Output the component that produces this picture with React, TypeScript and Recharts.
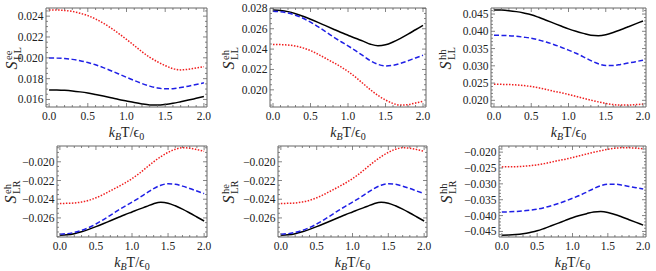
import React from 'react';
import { LineChart, Line, XAxis, YAxis, ReferenceArea } from 'recharts';

const FONT = '"Liberation Serif", "Times New Roman", "DejaVu Serif", serif';
const FRAME = '#666666';
const TEXT = '#222222';
const BLACK = '#000000';
const BLUE = '#1f1fe6';
const RED = '#f01e1e';

// k_B T / eps_0
const T_VALUES = [0, 0.1, 0.2, 0.3, 0.4, 0.5, 0.6, 0.7, 0.8, 0.9, 1.0, 1.1, 1.2, 1.3, 1.4, 1.5, 1.6, 1.7, 1.8, 1.9, 2.0];
const X_TICKS = [0, 0.5, 1.0, 1.5, 2.0];
const X_DOMAIN = [-0.04, 2.04];

// S_LL^ee
const EE_LL_BLACK = [0.01692, 0.01691, 0.01688, 0.01682, 0.01673, 0.01662, 0.01648, 0.01633, 0.01617, 0.01600, 0.01585, 0.01570, 0.01557, 0.01548, 0.01546, 0.01552, 0.01563, 0.01578, 0.01594, 0.01611, 0.01628];
const EE_LL_BLUE = [0.01998, 0.01997, 0.01993, 0.01985, 0.01972, 0.01955, 0.01933, 0.01906, 0.01876, 0.01845, 0.01813, 0.01782, 0.01753, 0.01728, 0.01710, 0.01702, 0.01704, 0.01714, 0.01728, 0.01744, 0.01760];
const EE_LL_RED = [0.02460, 0.02459, 0.02455, 0.02445, 0.02428, 0.02405, 0.02373, 0.02333, 0.02286, 0.02233, 0.02177, 0.02118, 0.02058, 0.02005, 0.01962, 0.01925, 0.01896, 0.01884, 0.01890, 0.01903, 0.01915];
const EE_LL_TICKS = [0.016, 0.018, 0.020, 0.022, 0.024];

// S_LL^eh
const EH_LL_BLACK = [0.02785, 0.02780, 0.02768, 0.02748, 0.02722, 0.02693, 0.02662, 0.02630, 0.02598, 0.02566, 0.02536, 0.02506, 0.02478, 0.02448, 0.02432, 0.02442, 0.02470, 0.02506, 0.02547, 0.02590, 0.02633];
const EH_LL_BLUE = [0.02773, 0.02768, 0.02755, 0.02733, 0.02703, 0.02665, 0.02620, 0.02572, 0.02522, 0.02476, 0.02432, 0.02385, 0.02335, 0.02286, 0.02250, 0.02235, 0.02240, 0.02260, 0.02285, 0.02313, 0.02340];
const EH_LL_RED = [0.02445, 0.02444, 0.02440, 0.02430, 0.02412, 0.02385, 0.02350, 0.02310, 0.02270, 0.02228, 0.02180, 0.02125, 0.02062, 0.02000, 0.01945, 0.01900, 0.01866, 0.01850, 0.01855, 0.01870, 0.01888];
const EH_LL_TICKS = [0.020, 0.022, 0.024, 0.026, 0.028];

// S_LL^hh
const HH_LL_BLACK = [0.04620, 0.04615, 0.04598, 0.04570, 0.04530, 0.04480, 0.04405, 0.04322, 0.04237, 0.04152, 0.04070, 0.04000, 0.03940, 0.03885, 0.03872, 0.03900, 0.03965, 0.04045, 0.04130, 0.04215, 0.04300];
const HH_LL_BLUE = [0.03885, 0.03882, 0.03872, 0.03855, 0.03830, 0.03800, 0.03750, 0.03690, 0.03620, 0.03540, 0.03455, 0.03365, 0.03260, 0.03150, 0.03060, 0.03010, 0.03010, 0.03040, 0.03080, 0.03120, 0.03165];
const HH_LL_RED = [0.02465, 0.02463, 0.02458, 0.02447, 0.02428, 0.02400, 0.02362, 0.02316, 0.02264, 0.02222, 0.02170, 0.02115, 0.02058, 0.02005, 0.01955, 0.01912, 0.01878, 0.01862, 0.01864, 0.01876, 0.01892];
const HH_LL_TICKS = [0.020, 0.025, 0.030, 0.035, 0.040, 0.045];

// S_LR^eh
const EH_LR_BLACK = [-0.02785, -0.02780, -0.02768, -0.02748, -0.02722, -0.02693, -0.02662, -0.02630, -0.02598, -0.02566, -0.02536, -0.02506, -0.02478, -0.02448, -0.02432, -0.02442, -0.02470, -0.02506, -0.02547, -0.02590, -0.02633];
const EH_LR_BLUE = [-0.02773, -0.02768, -0.02755, -0.02733, -0.02703, -0.02665, -0.02620, -0.02572, -0.02522, -0.02476, -0.02432, -0.02385, -0.02335, -0.02286, -0.02250, -0.02235, -0.02240, -0.02260, -0.02285, -0.02313, -0.02340];
const EH_LR_RED = [-0.02445, -0.02444, -0.02440, -0.02430, -0.02412, -0.02385, -0.02350, -0.02310, -0.02270, -0.02228, -0.02180, -0.02125, -0.02062, -0.02000, -0.01945, -0.01900, -0.01866, -0.01850, -0.01855, -0.01870, -0.01888];
const EH_LR_TICKS = [-0.026, -0.024, -0.022, -0.020];

// S_LR^he
const HE_LR_BLACK = [-0.02785, -0.02780, -0.02768, -0.02748, -0.02722, -0.02693, -0.02662, -0.02630, -0.02598, -0.02566, -0.02536, -0.02506, -0.02478, -0.02448, -0.02432, -0.02442, -0.02470, -0.02506, -0.02547, -0.02590, -0.02633];
const HE_LR_BLUE = [-0.02773, -0.02768, -0.02755, -0.02733, -0.02703, -0.02665, -0.02620, -0.02572, -0.02522, -0.02476, -0.02432, -0.02385, -0.02335, -0.02286, -0.02250, -0.02235, -0.02240, -0.02260, -0.02285, -0.02313, -0.02340];
const HE_LR_RED = [-0.02445, -0.02444, -0.02440, -0.02430, -0.02412, -0.02385, -0.02350, -0.02310, -0.02270, -0.02228, -0.02180, -0.02125, -0.02062, -0.02000, -0.01945, -0.01900, -0.01866, -0.01850, -0.01855, -0.01870, -0.01888];
const HE_LR_TICKS = [-0.026, -0.024, -0.022, -0.020];

// S_LR^hh
const HH_LR_BLACK = [-0.04620, -0.04615, -0.04598, -0.04570, -0.04530, -0.04480, -0.04405, -0.04322, -0.04237, -0.04152, -0.04070, -0.04000, -0.03940, -0.03885, -0.03872, -0.03900, -0.03965, -0.04045, -0.04130, -0.04215, -0.04300];
const HH_LR_BLUE = [-0.03885, -0.03882, -0.03872, -0.03855, -0.03830, -0.03800, -0.03750, -0.03690, -0.03620, -0.03540, -0.03455, -0.03365, -0.03260, -0.03150, -0.03060, -0.03010, -0.03010, -0.03040, -0.03080, -0.03120, -0.03165];
const HH_LR_RED = [-0.02465, -0.02463, -0.02458, -0.02447, -0.02428, -0.02400, -0.02362, -0.02316, -0.02264, -0.02222, -0.02170, -0.02115, -0.02058, -0.02005, -0.01955, -0.01912, -0.01878, -0.01862, -0.01864, -0.01876, -0.01892];
const HH_LR_TICKS = [-0.045, -0.040, -0.035, -0.030, -0.025, -0.020];

const PANELS = [
  { key: 'p1', sup: 'ee', sub: 'LL', black: EE_LL_BLACK, blue: EE_LL_BLUE, red: EE_LL_RED, ticks: EE_LL_TICKS, minor: 4,
    box: { left: 0, top: 0, width: 215, height: 122 }, plot: { l: 46, t: 8, r: 207, b: 107 }, title: { x: 17, row: 0 } },
  { key: 'p2', sup: 'eh', sub: 'LL', black: EH_LL_BLACK, blue: EH_LL_BLUE, red: EH_LL_RED, ticks: EH_LL_TICKS, minor: 4,
    box: { left: 218, top: 0, width: 215, height: 122 }, plot: { l: 270, t: 8, r: 426, b: 107 }, title: { x: 234, row: 0 } },
  { key: 'p3', sup: 'hh', sub: 'LL', black: HH_LL_BLACK, blue: HH_LL_BLUE, red: HH_LL_RED, ticks: HH_LL_TICKS, minor: 5,
    box: { left: 436, top: 0, width: 218, height: 122 }, plot: { l: 491, t: 8, r: 646, b: 107 }, title: { x: 451, row: 0 } },
  { key: 'p4', sup: 'eh', sub: 'LR', black: EH_LR_BLACK, blue: EH_LR_BLUE, red: EH_LR_RED, ticks: EH_LR_TICKS, minor: 4,
    box: { left: 0, top: 138, width: 215, height: 116 }, plot: { l: 57, t: 146, r: 207, b: 237 }, title: { x: 16, row: 1 } },
  { key: 'p5', sup: 'he', sub: 'LR', black: HE_LR_BLACK, blue: HE_LR_BLUE, red: HE_LR_RED, ticks: HE_LR_TICKS, minor: 4,
    box: { left: 218, top: 138, width: 215, height: 116 }, plot: { l: 278, t: 146, r: 427, b: 237 }, title: { x: 234, row: 1 } },
  { key: 'p6', sup: 'hh', sub: 'LR', black: HH_LR_BLACK, blue: HH_LR_BLUE, red: HH_LR_RED, ticks: HH_LR_TICKS, minor: 5,
    box: { left: 436, top: 138, width: 218, height: 116 }, plot: { l: 499, t: 146, r: 646, b: 237 }, title: { x: 452, row: 1 } },
];

const X_TITLE_Y = [137, 267];

const fmtY = (v: number) => (v < 0 ? '\u2212' + Math.abs(v).toFixed(3) : v.toFixed(3));

function isOn(v: number, list: number[]) {
  return list.some((m) => Math.abs(m - v) < 1e-9);
}

function XTick(props: any) {
  const { x, y, payload, plotTop } = props;
  const major = isOn(payload.value, X_TICKS);
  const len = major ? 4 : 2;
  return (
    <g>
      <line x1={x} x2={x} y1={y} y2={y - len} stroke={FRAME} strokeWidth={0.8} />
      <line x1={x} x2={x} y1={plotTop} y2={plotTop + len} stroke={FRAME} strokeWidth={0.8} />
      {major && (
        <text x={x} y={y + 13} textAnchor="middle" fontFamily={FONT} fontSize={11.5} fill={TEXT}>
          {payload.value.toFixed(1)}
        </text>
      )}
    </g>
  );
}

function YTick(props: any) {
  const { x, y, payload, plotRight, majors } = props;
  const major = isOn(payload.value, majors);
  const len = major ? 4 : 2;
  return (
    <g>
      <line x1={x} x2={x + len} y1={y} y2={y} stroke={FRAME} strokeWidth={0.8} />
      <line x1={plotRight} x2={plotRight - len} y1={y} y2={y} stroke={FRAME} strokeWidth={0.8} />
      {major && (
        <text x={x - 2.5} y={y + 4} textAnchor="end" fontFamily={FONT} fontSize={11.5} fill={TEXT}>
          {fmtY(payload.value)}
        </text>
      )}
    </g>
  );
}

function Panel({ cfg }: { cfg: any }) {
  const { box, plot, black, blue, red, ticks, minor } = cfg;
  const data = T_VALUES.map((t, i) => ({ t, black: black[i], blue: blue[i], red: red[i] }));
  const all = [...black, ...blue, ...red];
  const lo = Math.min(...all);
  const hi = Math.max(...all);
  const pad = (hi - lo) * 0.02;
  const yDomain = [lo - pad, hi + pad];

  const step = (ticks[1] - ticks[0]) / minor;
  const yAll: number[] = [];
  for (let k = Math.ceil(yDomain[0] / step); k * step <= yDomain[1]; k++) yAll.push(+(k * step).toFixed(6));
  const xAll: number[] = [];
  for (let k = 0; k <= 20; k++) xAll.push(+(k * 0.1).toFixed(2));

  const mt = plot.t - box.top;
  const mr = box.left + box.width - plot.r;
  const yw = plot.l - box.left;
  const xh = box.top + box.height - plot.b;
  const plotRight = box.width - mr;

  return (
    <div style={{ position: 'absolute', left: box.left, top: box.top }}>
      <LineChart width={box.width} height={box.height} data={data} margin={{ top: mt, right: mr, left: 0, bottom: 0 }}>
        <XAxis
          dataKey="t"
          type="number"
          domain={X_DOMAIN}
          ticks={xAll}
          interval={0}
          height={xh}
          tickSize={0}
          tickMargin={0}
          axisLine={false}
          tickLine={false}
          allowDataOverflow
          tick={(p: any) => <XTick {...p} plotTop={mt} />}
        />
        <YAxis
          type="number"
          domain={yDomain}
          ticks={yAll}
          interval={0}
          width={yw}
          tickSize={0}
          tickMargin={0}
          axisLine={false}
          tickLine={false}
          allowDataOverflow
          tick={(p: any) => <YTick {...p} plotRight={plotRight} majors={ticks} />}
        />
        <ReferenceArea
          x1={X_DOMAIN[0]}
          x2={X_DOMAIN[1]}
          y1={yDomain[0]}
          y2={yDomain[1]}
          fill="none"
          fillOpacity={0}
          stroke={FRAME}
          strokeOpacity={1}
          strokeWidth={1}
        />
        <Line type="monotone" dataKey="black" stroke={BLACK} strokeWidth={1.5} dot={false} isAnimationActive={false} />
        <Line type="monotone" dataKey="blue" stroke={BLUE} strokeWidth={1.5} strokeDasharray="5 2.5" dot={false} isAnimationActive={false} />
        <Line type="monotone" dataKey="red" stroke={RED} strokeWidth={1.5} strokeDasharray="1.5 1.5" dot={false} isAnimationActive={false} />
      </LineChart>
    </div>
  );
}

function Titles() {
  return (
    <svg width={656} height={271} style={{ position: 'absolute', left: 0, top: 0, pointerEvents: 'none' }}>
      {PANELS.map((p) => {
        const cx = (p.plot.l + p.plot.r) / 2;
        const cy = (p.plot.t + p.plot.b) / 2;
        return (
          <g key={p.key} fontFamily={FONT} fill={TEXT}>
            <text x={cx} y={X_TITLE_Y[p.title.row]} textAnchor="middle" fontSize={14}>
              <tspan fontStyle="italic">k</tspan>
              <tspan fontStyle="italic" fontSize={10} dy={3}>B</tspan>
              <tspan dy={-3}>T/ϵ</tspan>
              <tspan fontSize={10} dy={3}>0</tspan>
            </text>
            <g transform={`translate(${p.title.x},${cy + 12}) rotate(-90)`}>
              <text x={0} y={0} fontStyle="italic" fontSize={16}>S</text>
              <text x={9.5} y={-5} fontSize={10.5}>{p.sup}</text>
              <text x={9.5} y={4} fontSize={10.5}>{p.sub}</text>
            </g>
          </g>
        );
      })}
    </svg>
  );
}

export default function App() {
  return (
    <div style={{ position: 'absolute', left: 0, top: 0, width: 656, height: 271, background: '#ffffff', overflow: 'hidden' }}>
      {PANELS.map((p) => (
        <Panel key={p.key} cfg={p} />
      ))}
      <Titles />
    </div>
  );
}
